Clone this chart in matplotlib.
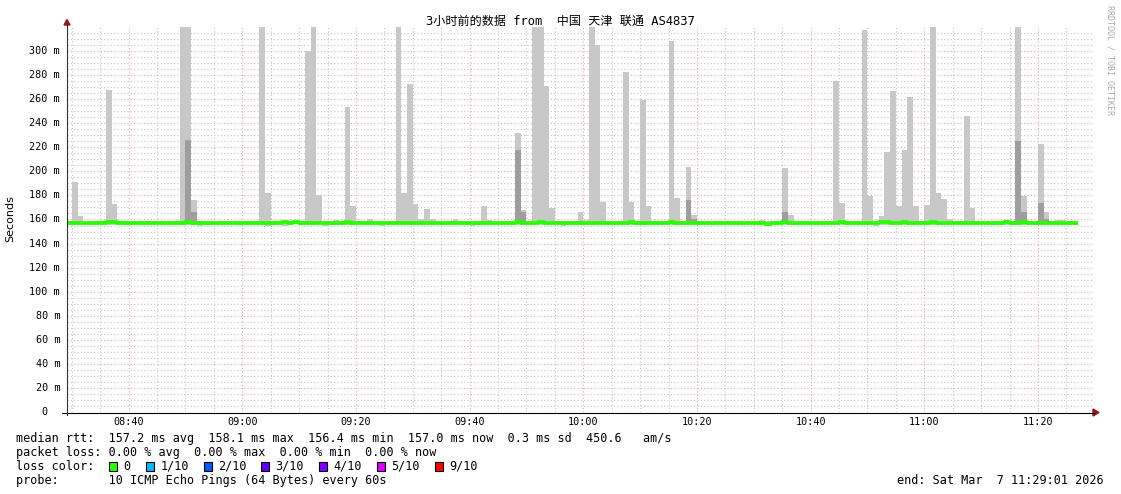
import matplotlib
matplotlib.use('Agg')
import matplotlib.pyplot as plt
from matplotlib.lines import Line2D
from matplotlib.patches import Polygon, Rectangle
import numpy as np

# ---------------- data (minutes after 08:00) ----------------
first_minute = 29
median_ms = [
    157.0, 157.2, 157.4, 156.9, 156.8, 157.3, 157.1, 157.6, 157.8, 157.2,
    157.0, 157.3, 157.4, 157.1, 157.0, 157.2, 157.5, 157.3, 157.1, 157.0,
    157.4, 157.6, 157.2, 156.9, 157.0, 157.3, 157.2, 157.0, 156.8, 157.1,
    157.2, 157.0, 157.4, 157.2, 157.5, 157.3, 157.0, 157.1, 157.6, 156.9,
    157.8, 157.3, 157.5, 157.2, 157.0, 157.1, 156.8, 157.3, 157.5, 157.9,
    157.2, 157.0, 157.1, 157.3, 157.0, 157.2, 157.4, 156.9, 157.3, 157.5,
    157.2, 157.0, 156.9, 157.3, 157.1, 157.0, 157.2, 157.4, 157.3, 157.0,
    157.1, 157.2, 157.0, 157.5, 157.3, 157.1, 157.0, 157.2, 157.3, 157.6,
    157.2, 157.0, 157.4, 157.6, 157.5, 157.2, 157.1, 157.0, 156.8, 157.3,
    157.5, 157.2, 157.4, 157.1, 157.3, 157.5, 157.0, 157.2, 157.3, 157.6,
    157.4, 157.0, 157.3, 157.2, 157.1, 157.4, 157.6, 157.3, 157.0, 157.5,
    157.2, 157.1, 157.0, 156.8, 157.2, 157.1, 156.9, 157.0, 157.3, 157.0,
    157.2, 157.4, 157.1, 156.4, 157.0, 157.3, 157.6, 157.2, 157.0, 156.9,
    157.1, 157.2, 157.0, 156.9, 157.3, 157.4, 157.6, 157.2, 157.0, 157.3,
    157.5, 157.2, 157.0, 157.6, 157.8, 157.4, 157.3, 157.8, 157.5, 157.2,
    157.0, 157.4, 157.6, 157.3, 157.2, 157.5, 157.1, 157.0, 157.2, 157.3,
    157.0, 157.2, 157.4, 157.1, 157.0, 157.6, 157.3, 157.5, 158.1, 157.4,
    157.2, 157.3, 157.5, 157.2, 157.0, 157.3, 157.1, 157.0,
]
smoke_hi_ms = [
    158.4, 191.0, 163.0, 158.2, 158.0, 158.8, 158.5, 268.0, 173.0, 158.6,   # 29-38
    158.9, 158.3, 158.0, 158.4, 158.7, 158.2, 158.5, 158.1, 158.3, 158.4,   # 39-48
    330.0, 330.0, 176.0, 158.6, 158.3, 158.5, 158.1, 158.4, 158.2, 158.7,   # 49-58
    158.4, 158.3, 159.0, 158.6, 330.0, 182.0, 158.6, 158.2, 158.5, 158.3,   # 59-68
    158.9, 158.8, 300.0, 330.0, 180.3, 158.4, 158.1, 159.2, 158.6, 253.5,   # 69-78
    171.0, 158.4, 158.5, 160.0, 158.3, 158.2, 158.6, 158.1, 330.0, 182.0,   # 79-88
    273.0, 173.0, 160.0, 169.0, 160.0, 158.3, 158.1, 158.4, 160.0, 158.5,   # 89-98
    158.2, 158.6, 158.9, 171.0, 159.5, 158.3, 158.2, 158.5, 158.6, 232.0,   # 99-108
    168.0, 158.5, 330.0, 330.0, 271.0, 169.5, 158.6, 158.2, 158.4, 158.5,   # 109-118
    166.2, 159.5, 330.0, 305.0, 174.8, 158.6, 158.2, 158.5, 283.0, 174.8,   # 119-128
    158.7, 259.5, 171.2, 158.5, 158.3, 158.6, 308.3, 177.7, 158.4, 203.6,   # 129-138
    163.7, 159.0, 158.4, 158.3, 158.6, 158.2, 158.5, 158.3, 158.9, 158.4,   # 139-148
    158.2, 158.6, 159.6, 158.4, 158.2, 158.9, 202.8, 163.7, 158.3, 158.2,   # 149-158
    158.5, 158.3, 158.2, 158.4, 158.6, 275.0, 173.7, 158.5, 158.3, 158.8,   # 159-168
    317.5, 179.5, 158.3, 162.9, 216.1, 266.8, 171.2, 217.7, 261.8, 171.2,   # 169-178
    158.5, 172.1, 330.0, 182.0, 177.0, 160.0, 158.4, 158.3, 246.0, 169.5,   # 179-188
    158.5, 158.2, 158.6, 158.3, 158.4, 158.7, 158.5, 330.0, 179.5, 158.6,   # 189-198
    158.4, 222.7, 166.2, 158.5, 159.6, 159.6, 158.5, 158.3,                 # 199-206
]
smoke_lo_ms = [
    155.6, 155.2, 155.8, 156.0, 155.5, 155.4, 155.9, 155.3, 155.7, 156.0,
    155.8, 155.6, 155.9, 155.4, 155.7, 155.9, 155.6, 155.8, 155.5, 155.9,
    155.4, 155.6, 155.3, 154.4, 155.6, 155.8, 155.5, 155.2, 155.7, 155.9,
    155.6, 155.4, 155.2, 155.7, 155.3, 154.9, 155.6, 155.8, 155.0, 155.7,
    155.9, 155.5, 155.2, 155.6, 155.4, 154.7, 155.6, 155.5, 155.8, 155.6,
    155.4, 155.9, 155.3, 155.7, 155.5, 154.8, 155.6, 155.7, 155.8, 155.5,
    155.6, 155.2, 155.5, 155.8, 155.4, 155.6, 155.8, 155.5, 155.9, 155.3,
    155.6, 155.0, 155.4, 155.6, 155.7, 155.3, 155.7, 155.6, 155.3, 155.4,
    155.6, 155.3, 155.2, 155.5, 155.6, 155.4, 155.7, 154.9, 155.6, 155.5,
    155.6, 155.5, 155.1, 155.4, 155.6, 155.8, 155.4, 155.7, 155.5, 155.4,
    155.6, 155.7, 155.2, 155.8, 155.4, 155.6, 155.5, 155.4, 155.8, 155.5,
    155.4, 155.6, 155.7, 155.8, 155.5, 155.6, 155.9, 155.7, 155.5, 155.6,
    155.8, 155.5, 155.6, 154.6, 155.5, 155.6, 155.1, 155.5, 155.8, 155.6,
    155.7, 155.5, 155.8, 155.6, 155.4, 155.6, 155.5, 155.7, 155.6, 155.8,
    155.5, 155.6, 154.9, 155.5, 155.6, 155.2, 155.3, 155.6, 155.3, 155.4,
    155.5, 155.6, 155.4, 155.5, 155.6, 155.7, 155.6, 155.6, 155.5, 155.7,
    155.6, 155.5, 155.4, 155.6, 155.7, 155.5, 155.6, 155.4, 155.5, 155.6,
    155.6, 155.4, 155.5, 155.6, 155.4, 155.6, 155.5, 155.6,
]
dark_minutes = [50, 51, 108, 109, 138, 139, 155, 196, 197, 200, 201]
dark_tops_ms = [226.0, 166.2, 217.7, 166.0, 176.2, 160.4, 166.2, 225.2, 166.2, 173.7, 160.0]
dark_base_ms = 156.2

y_ticks = [0, 20, 40, 60, 80, 100, 120, 140, 160, 180, 200, 220, 240, 260, 280, 300]
y_labels = ['0', '20 m', '40 m', '60 m', '80 m', '100 m', '120 m', '140 m', '160 m',
            '180 m', '200 m', '220 m', '240 m', '260 m', '280 m', '300 m']
x_ticks = [40, 60, 80, 100, 120, 140, 160, 180, 200]
x_labels = ['08:40', '09:00', '09:20', '09:40', '10:00', '10:20', '10:40', '11:00', '11:20']

loss_labels = ['0', '1/10', '2/10', '3/10', '4/10', '5/10', '9/10']
loss_colors = ['#26ff00', '#00b8ff', '#0059ff', '#5e00ff', '#7e00ff', '#dd00ff', '#ff0000']

title = '3小时前的数据 from  中国 天津 联通 AS4837'
line1 = 'median rtt:  157.2 ms avg  158.1 ms max  156.4 ms min  157.0 ms now  0.3 ms sd  450.6   am/s'
line2 = 'packet loss: 0.00 % avg  0.00 % max  0.00 % min  0.00 % now'
line3 = 'loss color:'
line4 = 'probe:       10 ICMP Echo Pings (64 Bytes) every 60s'
end_text = 'end: Sat Mar  7 11:29:01 2026'

# ---------------- figure ----------------
W, H = 1121, 494
fig = plt.figure(figsize=(W / 100, H / 100), dpi=100)
fig.patch.set_facecolor('white')
L, R, T, B = 67, 1092, 27, 412
ax = fig.add_axes([L / W, (H - B) / H, (R - L) / W, (B - T) / H])
ax.set_xlim(29.15, 29.15 + (R - L) / 5.683)
ax.set_ylim(0, 320)

mono = 'DejaVu Sans Mono'

n = len(median_ms)
minutes = np.arange(first_minute, first_minute + n)
lo = np.array(smoke_lo_ms)
hi = np.array(smoke_hi_ms)
ax.bar(minutes, hi - lo, bottom=lo, width=1.0, align='edge',
       color='#c8c8c8', linewidth=0, zorder=2)
dt = np.array(dark_tops_ms)
ax.bar(dark_minutes, dt - dark_base_ms, bottom=dark_base_ms, width=1.0, align='edge',
       color='#9e9e9e', linewidth=0, zorder=3)
edges = np.append(minutes, minutes[-1] + 1)
ax.step(edges, list(median_ms) + [median_ms[-1]], where='post',
        color='#26ff00', lw=2.7, zorder=4, solid_capstyle='butt')

# grid
ax.set_xticks([m for m in range(30, 210, 5) if m % 20 != 0], minor=True)
ax.set_xticks(x_ticks)
ax.set_yticks([v for v in range(5, 320, 5) if v % 20 != 0], minor=True)
ax.set_yticks(y_ticks)
ax.grid(which='minor', color='#c6c6c6', linestyle=(0, (1, 2)), lw=0.8)
ax.grid(which='major', color='#f2a4a4', linestyle=(0, (1, 2)), lw=0.8)
ax.set_axisbelow(True)
ax.tick_params(which='both', length=0, labelbottom=False, labelleft=False)
for s in ax.spines.values():
    s.set_visible(False)

# tick labels
ytr = ax.get_yaxis_transform()
for v, lab in zip(y_ticks, y_labels):
    xr = (60 - L) / (R - L) if v != 0 else (48 - L) / (R - L)
    ax.text(xr, v, lab, transform=ytr, ha='right', va='center',
            family=mono, fontsize=7.3, color='black', clip_on=False)
xtr = ax.get_xaxis_transform()
for m, lab in zip(x_ticks, x_labels):
    ax.text(m, -(421.5 - B) / (B - T), lab, transform=xtr, ha='center', va='center',
            family=mono, fontsize=7.3, color='black', clip_on=False)

# axis lines and arrows (figure pixel coordinates)
def fx(x):
    return x / W

def fy(y):
    return 1 - y / H

fig.add_artist(Line2D([fx(62), fx(1094)], [fy(412.5), fy(412.5)], color='black', lw=0.8))
fig.add_artist(Line2D([fx(67), fx(67)], [fy(415), fy(24)], color='#333333', lw=0.8))
fig.add_artist(Polygon([(fx(64), fy(25)), (fx(70), fy(25)), (fx(67), fy(19.5))],
                       closed=True, color='#8b1a1a', transform=fig.transFigure))
fig.add_artist(Polygon([(fx(1093), fy(409)), (fx(1093), fy(416)), (fx(1099), fy(412.5))],
                       closed=True, color='#8b1a1a', transform=fig.transFigure))

# titles and side texts
fig.text(fx(560), fy(21), title, ha='center', va='center', fontsize=8.7,
         family=[mono, 'Noto Sans CJK SC'], color='black')
fig.text(fx(1110), fy(5), 'RRDTOOL / TOBI OETIKER', ha='center', va='top', rotation=270,
         family=mono, fontsize=6, color='#aaaaaa')
fig.text(fx(10), fy(219), 'Seconds', ha='center', va='center', rotation=90,
         family='DejaVu Sans', fontsize=8, color='black')

# legend block
lfs = 8.5
fig.text(fx(16), fy(438), line1, ha='left', va='center', family=mono, fontsize=lfs)
fig.text(fx(16), fy(452), line2, ha='left', va='center', family=mono, fontsize=lfs)
fig.text(fx(16), fy(466), line3, ha='left', va='center', family=mono, fontsize=lfs)
fig.text(fx(16), fy(480), line4, ha='left', va='center', family=mono, fontsize=lfs)
fig.text(fx(1104), fy(480), end_text, ha='right', va='center', family=mono, fontsize=lfs)

box_x = [108.5, 146, 203.5, 261, 319, 377, 435]
for bx, lab, col in zip(box_x, loss_labels, loss_colors):
    fig.add_artist(Rectangle((fx(bx), fy(470.5)), 8 / W, 8.5 / H, facecolor=col,
                             edgecolor='black', lw=0.8, transform=fig.transFigure))
    fig.text(fx(bx + 14.5), fy(466), lab, ha='left', va='center', family=mono, fontsize=lfs)

fig.savefig('out.png', dpi=100, facecolor='white')
